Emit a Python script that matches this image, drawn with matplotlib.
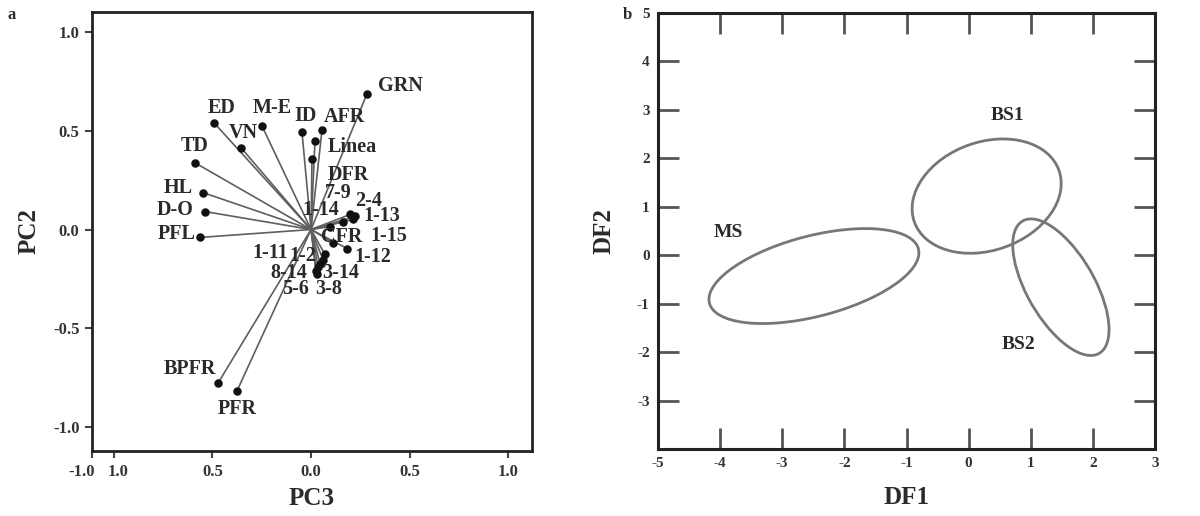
import numpy as np
import matplotlib
matplotlib.use("Agg")
import matplotlib.pyplot as plt
import matplotlib.transforms as mtransforms
from matplotlib.patches import Ellipse

# ---------------- data: panel a (PCA loadings, PC3 vs PC2) ----------------
traits = ["GRN", "ED", "M-E", "VN", "ID", "AFR", "Linea", "TD", "HL", "D-O", "PFL",
          "BPFR", "PFR", "DFR", "7-9", "2-4", "1-14", "1-13", "1-15", "CFR", "1-12",
          "1-2", "1-11", "8-14", "3-14", "5-6", "3-8"]
pc3 = [0.284, -0.492, -0.249, -0.355, -0.046, 0.056, 0.020, -0.589, -0.548, -0.538, -0.563,
       -0.472, -0.376, 0.005, 0.162, 0.223, 0.096, 0.213, 0.198, 0.112, 0.183,
       0.071, 0.061, 0.046, 0.036, 0.030, 0.025]
pc2 = [0.687, 0.540, 0.525, 0.414, 0.495, 0.505, 0.449, 0.338, 0.187, 0.091, -0.040,
       -0.778, -0.818, 0.359, 0.040, 0.066, 0.015, 0.051, 0.076, -0.066, -0.096,
       -0.126, -0.152, -0.172, -0.187, -0.227, -0.212]
a_xtick_vals = [-1.11, -1.0, -0.5, 0.0, 0.5, 1.0]
a_xtick_labels = ["-1.0", "1.0", "0.5", "0.0", "0.5", "1.0"]
a_ytick_vals = [-1.0, -0.5, 0.0, 0.5, 1.0]
a_ytick_labels = ["-1.0", "-0.5", "0.0", "0.5", "1.0"]

# ---------------- data: panel b (discriminant groups) ----------------
groups = ["MS", "BS1", "BS2"]
df1_center = [-2.49, 0.29, 1.485]
df2_center = [-0.43, 1.22, -0.66]
df1_spread = [1.69, 1.20, 0.775]
df2_spread = [0.98, 1.18, 1.41]
df_corr = [0.49, 0.22, -0.62]
b_xticks = [-5, -4, -3, -2, -1, 0, 1, 2, 3]
b_yticks = [-3, -2, -1, 0, 1, 2, 3, 4, 5]

# ---------------- style (label offsets in pixels) ----------------
label_offsets = {
    "GRN": (33, 8), "ED": (8, 15), "M-E": (10, 18), "VN": (2, 15), "ID": (4, 16),
    "AFR": (22, 13), "Linea": (37, -6), "TD": (0, 17), "HL": (-25, 5), "D-O": (-30, 2),
    "PFL": (-23, 3), "BPFR": (-28, 14), "PFR": (0, -18), "DFR": (36, -16),
    "7-9": (-5, 29), "2-4": (14, 15), "1-14": (-9, 17), "1-13": (29, 3),
    "1-15": (39, -22), "CFR": (9, 6), "1-12": (26, -8), "1-2": (-22, -2),
    "1-11": (-53, 7), "8-14": (-31, -9), "3-14": (23, -6), "5-6": (-21, -15),
    "3-8": (13, -18),
}
group_label_pos = {"MS": (-3.87, 0.46), "BS1": (0.63, 2.88), "BS2": (0.80, -1.84)}

SERIF = ["Liberation Serif", "DejaVu Serif"]
plt.rcParams["font.family"] = SERIF
plt.rcParams["font.weight"] = "bold"
TXT = "#2a2a2a"

fig = plt.figure(figsize=(12, 5.16), dpi=100)

# ================= panel a =================
axa = fig.add_axes([92 / 1200, 1 - 451 / 516, 440 / 1200, 439 / 516])
axa.set_xlim(-1.11, 1.12)
axa.set_ylim(-1.12, 1.10)
for x, y in zip(pc3, pc2):
    axa.plot([0, x], [0, y], color="#5e5e5e", lw=1.2, zorder=2)
axa.scatter(pc3, pc2, s=26, color="#111111", zorder=3)
for name, x, y in zip(traits, pc3, pc2):
    dx, dy = label_offsets[name]
    axa.annotate(name, (x, y), xytext=(dx, dy), textcoords="offset pixels",
                 ha="center", va="center", fontsize=14.5, fontweight="bold",
                 color=TXT, zorder=4)
axa.set_xticks(a_xtick_vals)
axa.set_xticklabels(a_xtick_labels)
axa.set_yticks(a_ytick_vals)
axa.set_yticklabels(a_ytick_labels)
axa.tick_params(direction="out", length=5, width=1.5, colors="#444444",
                labelcolor="#333333", labelsize=12, pad=4, top=False, right=False)
for lab in axa.get_xticklabels() + axa.get_yticklabels():
    lab.set_fontweight("bold")
xlabs = axa.get_xticklabels()
xlabs[0].set_ha("right")
xlabs[0].set_transform(xlabs[0].get_transform() +
                       mtransforms.ScaledTranslation(3 / 100, 0, fig.dpi_scale_trans))
xlabs[1].set_transform(xlabs[1].get_transform() +
                       mtransforms.ScaledTranslation(4 / 100, 0, fig.dpi_scale_trans))
for sp in axa.spines.values():
    sp.set_linewidth(2.0)
    sp.set_color("#222222")
axa.set_xlabel("PC3", fontsize=18, fontweight="bold", color=TXT)
axa.set_ylabel("PC2", fontsize=18, fontweight="bold", color=TXT)
axa.xaxis.set_label_coords(0.5, -0.082)
axa.yaxis.set_label_coords(-0.118, 0.5)

# ================= panel b =================
axb = fig.add_axes([658 / 1200, 1 - 449 / 516, 497 / 1200, 436 / 516])
axb.set_xlim(-5, 3)
axb.set_ylim(-4, 5)
for g, cx, cy, sx, sy, r in zip(groups, df1_center, df2_center, df1_spread, df2_spread, df_corr):
    cov = np.array([[sx * sx, r * sx * sy], [r * sx * sy, sy * sy]])
    vals, vecs = np.linalg.eigh(cov)
    order = np.argsort(vals)[::-1]
    vals, vecs = vals[order], vecs[:, order]
    ang = np.degrees(np.arctan2(vecs[1, 0], vecs[0, 0]))
    e = Ellipse((cx, cy), 2 * np.sqrt(vals[0]), 2 * np.sqrt(vals[1]), angle=ang,
                fill=False, edgecolor="#777777", lw=2.0, zorder=2)
    axb.add_patch(e)
    lx, ly = group_label_pos[g]
    axb.text(lx, ly, g, ha="center", va="center", fontsize=14, fontweight="bold",
             color=TXT)
axb.set_xticks(b_xticks)
axb.set_xticklabels([str(v) for v in b_xticks])
axb.set_yticks(b_yticks)
axb.set_yticklabels([str(v) for v in b_yticks])
axb.tick_params(direction="in", length=15, width=2, colors="#555555",
                labelcolor="#333333", labelsize=11, pad=6,
                top=True, right=True)
for lab in axb.get_xticklabels() + axb.get_yticklabels():
    lab.set_fontweight("bold")
for sp in axb.spines.values():
    sp.set_linewidth(2.2)
    sp.set_color("#222222")
axb.set_xlabel("DF1", fontsize=18, fontweight="bold", color=TXT)
axb.set_ylabel("DF2", fontsize=18, fontweight="bold", color=TXT)
axb.xaxis.set_label_coords(0.5, -0.086)
axb.yaxis.set_label_coords(-0.085, 0.5)

# panel letters
fig.text(12 / 1200, 1 - 15 / 516, "a", ha="center", va="center", fontsize=12,
         fontweight="bold", color=TXT)
fig.text(627 / 1200, 1 - 15 / 516, "b", ha="center", va="center", fontsize=12,
         fontweight="bold", color=TXT)

fig.savefig("out.png", dpi=100)
